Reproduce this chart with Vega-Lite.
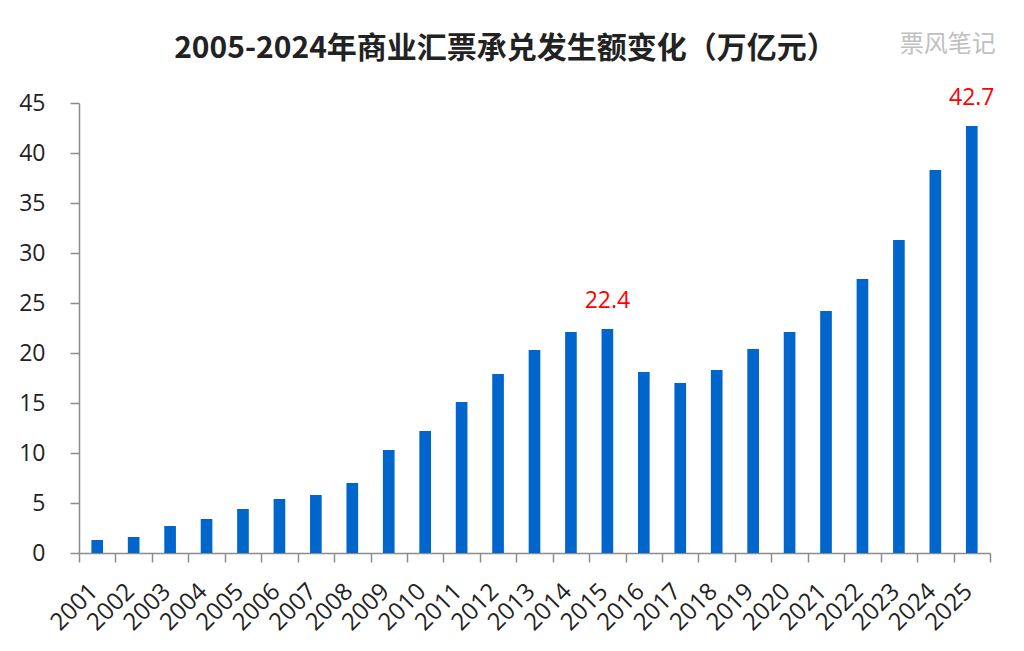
{
  "$schema": "https://vega.github.io/schema/vega-lite/v6.json",
  "width": 911,
  "height": 450,
  "autosize": {"type": "none"},
  "padding": {"left": 79, "top": 103, "right": 34, "bottom": 98},
  "background": "white",
  "title": {
    "text": "2005-2024年商业汇票承兑发生额变化（万亿元）",
    "font": "Noto Sans CJK SC",
    "fontSize": 30,
    "fontWeight": "bold",
    "color": "#222222",
    "anchor": "middle",
    "dx": -29,
    "offset": -31
  },
  "datasets": {
    "bills": [
      {"year": "2001", "amount": 1.3},
      {"year": "2002", "amount": 1.6},
      {"year": "2003", "amount": 2.7},
      {"year": "2004", "amount": 3.4},
      {"year": "2005", "amount": 4.4},
      {"year": "2006", "amount": 5.4},
      {"year": "2007", "amount": 5.8},
      {"year": "2008", "amount": 7.0},
      {"year": "2009", "amount": 10.3},
      {"year": "2010", "amount": 12.2},
      {"year": "2011", "amount": 15.1},
      {"year": "2012", "amount": 17.9},
      {"year": "2013", "amount": 20.3},
      {"year": "2014", "amount": 22.1},
      {"year": "2015", "amount": 22.4},
      {"year": "2016", "amount": 18.1},
      {"year": "2017", "amount": 17.0},
      {"year": "2018", "amount": 18.3},
      {"year": "2019", "amount": 20.4},
      {"year": "2020", "amount": 22.1},
      {"year": "2021", "amount": 24.2},
      {"year": "2022", "amount": 27.4},
      {"year": "2023", "amount": 31.3},
      {"year": "2024", "amount": 38.3},
      {"year": "2025", "amount": 42.7}
    ],
    "watermark": [
      {"label": "票风笔记", "year": "2025", "pos": 50.8}
    ]
  },
  "data": {"name": "bills"},
  "layer": [
    {
      "mark": {"type": "bar", "color": "#0066CC", "width": {"band": 0.32}},
      "encoding": {
        "x": {
          "field": "year",
          "type": "ordinal",
          "scale": {"paddingInner": 0, "paddingOuter": 0},
          "axis": {
            "title": null,
            "tickBand": "extent",
            "labelAngle": -45,
            "labelFont": "Open Sans",
            "labelFontSize": 24,
            "labelColor": "#222222",
            "labelPadding": 17,
            "labelOffset": -12,
            "domainColor": "#8c8c8c",
            "domainWidth": 1.5,
            "tickColor": "#8c8c8c",
            "tickWidth": 1.5,
            "tickSize": 9
          }
        },
        "y": {
          "field": "amount",
          "type": "quantitative",
          "scale": {"domain": [0, 45], "nice": false},
          "axis": {
            "title": null,
            "values": [0, 5, 10, 15, 20, 25, 30, 35, 40, 45],
            "grid": false,
            "labelFont": "Open Sans",
            "labelFontSize": 23,
            "labelColor": "#222222",
            "labelPadding": 25,
            "domainColor": "#8c8c8c",
            "domainWidth": 1.5,
            "tickColor": "#8c8c8c",
            "tickWidth": 1.5,
            "tickSize": 9
          }
        }
      }
    },
    {
      "transform": [{"filter": "datum.year === '2015' || datum.year === '2025'"}],
      "mark": {
        "type": "text",
        "font": "Open Sans",
        "fontSize": 23,
        "color": "#FF0000",
        "baseline": "bottom",
        "dy": -16
      },
      "encoding": {
        "x": {"field": "year", "type": "ordinal"},
        "y": {"field": "amount", "type": "quantitative"},
        "text": {"field": "amount", "type": "quantitative", "format": ".1f"}
      }
    },
    {
      "data": {"name": "watermark"},
      "mark": {
        "type": "text",
        "font": "Noto Sans CJK SC",
        "fontSize": 24,
        "color": "#c0c0c0",
        "dx": -24
      },
      "encoding": {
        "x": {"field": "year", "type": "ordinal"},
        "y": {"field": "pos", "type": "quantitative"},
        "text": {"field": "label"}
      }
    }
  ],
  "config": {
    "view": {"stroke": null}
  }
}
